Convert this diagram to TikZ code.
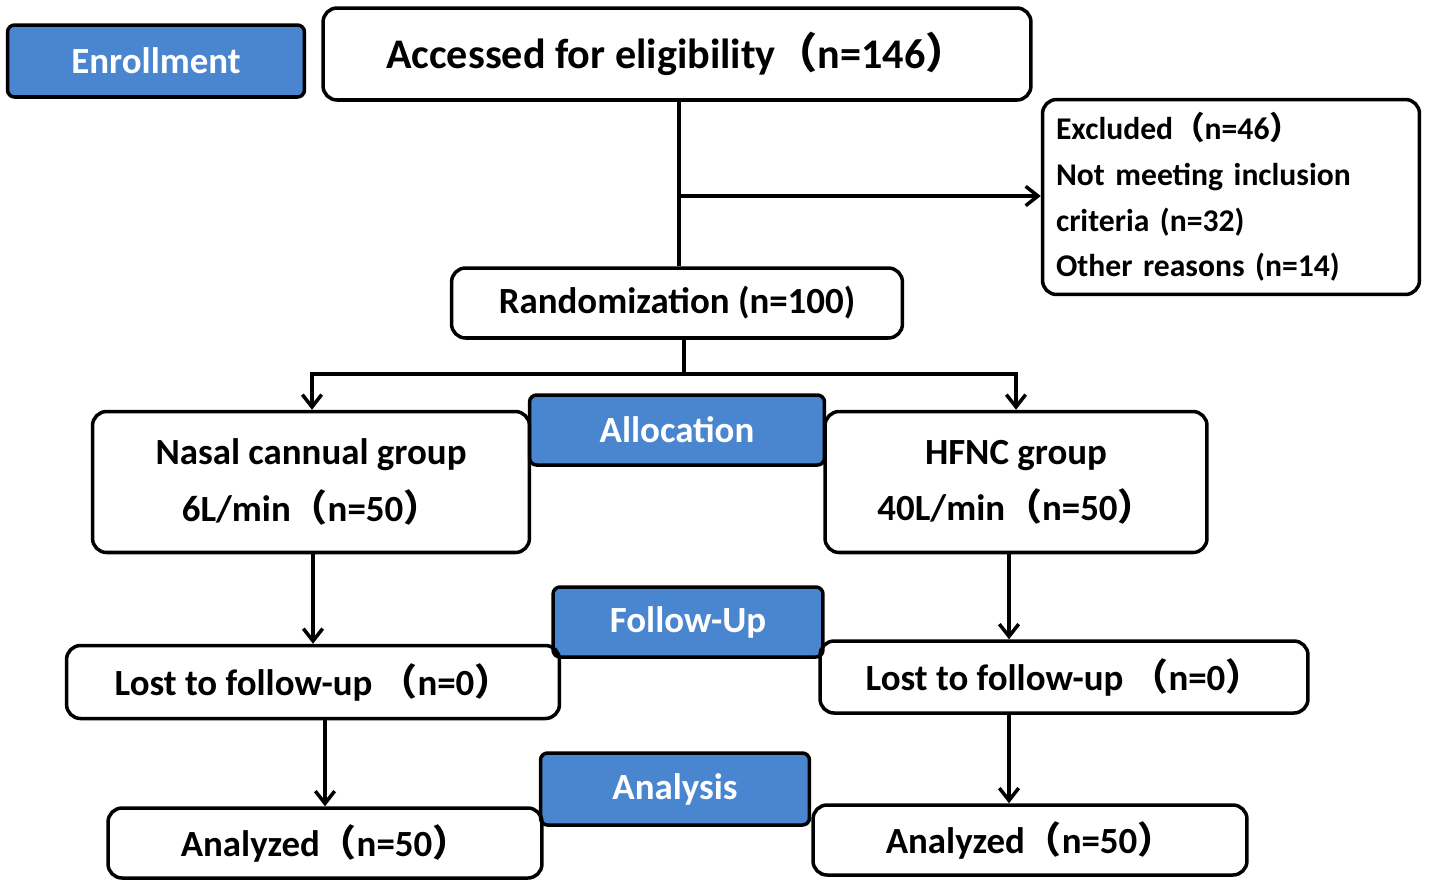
\documentclass[tikz,border=0pt]{standalone}
\usepackage{fontspec}
\setmainfont{Carlito}
\newfontfamily\cjk{Noto Sans CJK SC}
\usetikzlibrary{arrows.meta, calc, positioning}
\newcommand{\lp}{{\cjk （}}
\newcommand{\rp}{{\cjk ）}}
\tikzstyle{box} = [rectangle, rounded corners=8pt, line width=2pt, draw=black, inner sep=0pt, font=\bfseries\fontsize{21}{25}\selectfont, align=center]
\tikzstyle{tag} = [box, rounded corners=4pt, fill={rgb,255:red,74;green,134;blue,208}, text=white]
\tikzstyle{arrow} = [line width=2pt, -{Straight Barb[length=7pt,width=11pt]}]
\tikzstyle{link} = [line width=2pt]

\begin{document}
\begin{tikzpicture}[x=0.02cm, y=-0.02cm]
		\useasboundingbox (0,0) rectangle (1429,887);
		\node (Enrollment) [tag, minimum width=5.94cm, minimum height=1.44cm] at (156,61) {Enrollment};
		\node (Accessed) [box, minimum width=14.16cm, minimum height=1.84cm, font=\bfseries\fontsize{24}{28}\selectfont] at (677,54) {Accessed for eligibility\lp n=146\rp};
		\node (Excluded) [box, minimum width=7.54cm, minimum height=3.9cm, text width=7cm, align=left, font=\bfseries\fontsize{18}{26}\selectfont] at (1231,197) {Excluded\lp n=46\rp\\Not meeting inclusion\\criteria (n=32)\\Other reasons (n=14)};
		\node (Random) [box, minimum width=9.02cm, minimum height=1.4cm] at (677,303) {Randomization (n=100)};
		\node (Allocation) [tag, minimum width=5.9cm, minimum height=1.4cm] at (677,430) {Allocation};
		\node (Nasal) [box, minimum width=8.74cm, minimum height=2.82cm, font=\bfseries\fontsize{21}{32}\selectfont] at (311,482) {Nasal cannual group\\6L/min\lp n=50\rp};
		\node (HFNC) [box, minimum width=7.64cm, minimum height=2.82cm, font=\bfseries\fontsize{21}{32}\selectfont] at (1016,482) {HFNC group\\40L/min\lp n=50\rp};
		\node (FollowUp) [tag, minimum width=5.4cm, minimum height=1.4cm] at (688,622) {Follow-Up};
		\node (LostL) [box, minimum width=9.86cm, minimum height=1.46cm] at (313,682) {Lost to follow-up \lp n=0\rp};
		\node (LostR) [box, minimum width=9.76cm, minimum height=1.44cm] at (1064,677) {Lost to follow-up \lp n=0\rp};
		\node (Analysis) [tag, minimum width=5.38cm, minimum height=1.44cm] at (675,789) {Analysis};
		\node (AnalyzedL) [box, minimum width=8.68cm, minimum height=1.4cm] at (325,843) {Analyzed\lp n=50\rp};
		\node (AnalyzedR) [box, minimum width=8.68cm, minimum height=1.4cm] at (1030,840) {Analyzed\lp n=50\rp};

		\coordinate (Branch) at (679,196);
		\coordinate (Split) at (684,374);

		\draw [link] (Accessed.south -| Branch) -- (Random.north -| Branch);
		\draw [arrow] (Branch) -- (Branch -| Excluded.west);
		\draw [link] (Random.south -| Split) -- (Split);
		\draw [arrow] (Split) -| (Nasal.north -| 312,0);
		\draw [arrow] (Split) -| (HFNC.north);
		\draw [arrow] (Nasal.south -| 313,0) -- (LostL.north -| 313,0);
		\draw [arrow] (HFNC.south -| 1009,0) -- (LostR.north -| 1009,0);
		\draw [arrow] (LostL.south -| AnalyzedL) -- (AnalyzedL.north);
		\draw [arrow] (LostR.south -| 1009,0) -- (AnalyzedR.north -| 1009,0);
		\end{tikzpicture}
\end{document}
